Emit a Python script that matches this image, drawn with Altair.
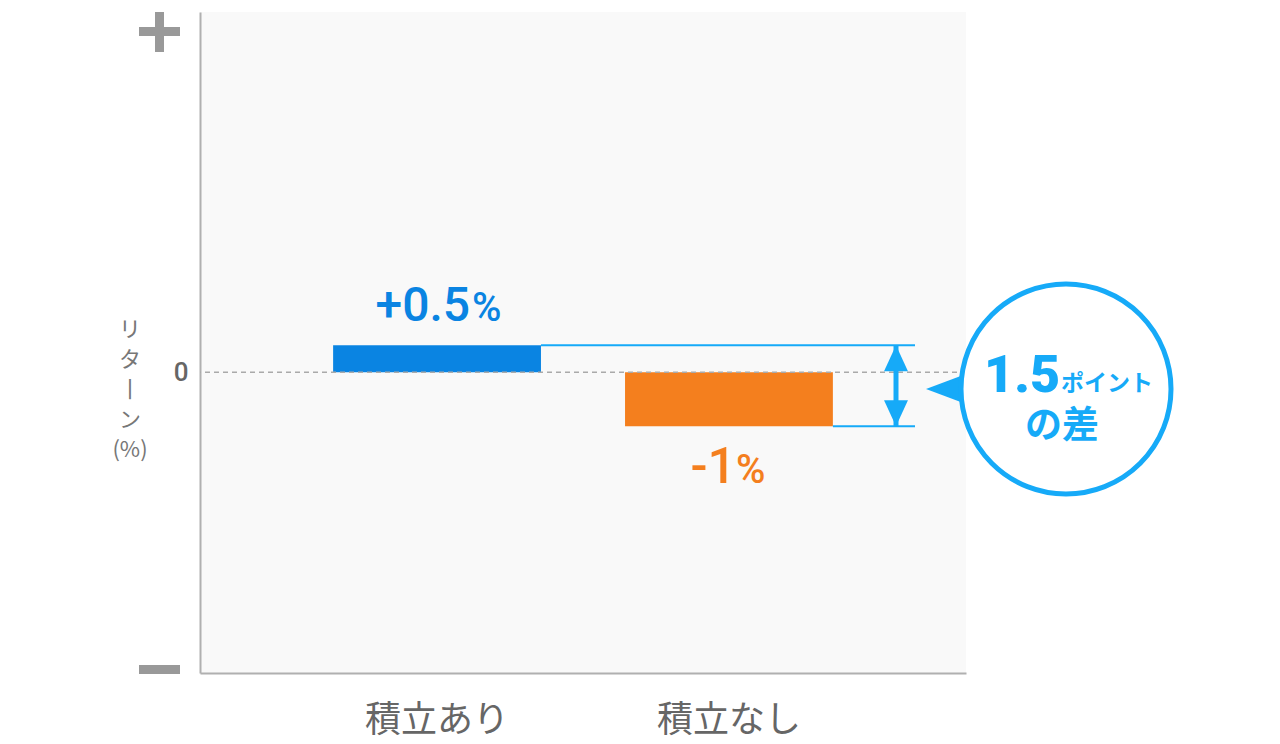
import altair as alt
import pandas as pd

# ---- data ----
categories = ["積立あり", "積立なし"]
returns = [0.5, -1.0]
label_numbers = ["+0.5", "-1"]
bar_colors = ["#0a84e2", "#f47f1e"]
y_title_lines = ["リ", "タ", "丨", "ン", "(%)"]
callout_unit = "ポイント"
callout_tail = "の差"

diff_text = f"{abs(returns[0] - returns[1]):.1f}"

df = pd.DataFrame({"cat": categories, "value": returns, "num": label_numbers, "zero": [0, 0]})
one = pd.DataFrame({"k": [0]})

ACCENT = "#16aaf8"
AXIS_GRAY = "#b0b0b0"
TEXT_GRAY = "#666666"
JP = "Noto Sans CJK JP"

xscale = alt.Scale(domain=categories, paddingInner=0.288, paddingOuter=0.456)
yscale = alt.Scale(domain=[-5.57, 6.67], nice=False, zero=False)
xaxis = alt.Axis(title=None, ticks=False, grid=False, domainColor=AXIS_GRAY, domainWidth=2,
                 labelFont=JP, labelFontSize=36, labelColor=TEXT_GRAY, labelPadding=30,
                 labelAngle=0)
yaxis = alt.Axis(title=None, ticks=False, grid=False, values=[0], domainColor=AXIS_GRAY,
                 domainWidth=2, labelFont="Roboto", labelFontSize=26, labelFontWeight=500,
                 labelColor=TEXT_GRAY, labelPadding=12)

X = alt.X("cat:N", scale=xscale, axis=xaxis, sort=categories)
Y = alt.Y("value:Q", scale=yscale, axis=yaxis)

base = alt.Chart(df)

bars = base.mark_bar().encode(
    x=X, y=Y, y2="zero:Q",
    color=alt.Color("cat:N", scale=alt.Scale(domain=categories, range=bar_colors), legend=None),
)

guides = base.mark_rule(color=ACCENT, strokeWidth=2).encode(
    x=alt.X("cat:N", scale=xscale, axis=xaxis, sort=categories, bandPosition=1),
    x2=alt.value(715),
    y=Y,
)

zero_line = alt.Chart(one).mark_rule(color="#aaaaaa", strokeDash=[5, 4], strokeWidth=1.5).encode(
    y=alt.datum(0)
)

# value labels
num_size = [48, 50]
num_dx = [33, 7]
pct_dx = [35, 7]
lab_dy = [-24, 57]
label_layers = []
for i, c in enumerate(categories):
    sub = base.transform_filter(alt.datum.cat == c)
    label_layers.append(
        sub.mark_text(font="Roboto", fontSize=num_size[i], fontWeight=500, color=bar_colors[i],
                      align="right", baseline="alphabetic", dx=num_dx[i], dy=lab_dy[i]).encode(
            x=X, y=Y, text="num:N")
    )
    label_layers.append(
        sub.mark_text(text="%", font="Roboto", fontSize=40, fontWeight=500, color=bar_colors[i],
                      align="left", baseline="alphabetic", dx=pct_dx[i], dy=lab_dy[i]).encode(
            x=X, y=Y)
    )

# difference arrow
shaft = alt.Chart(one).mark_rule(color=ACCENT, strokeWidth=5).encode(
    x=alt.value(696), y=alt.datum(returns[0]), y2=alt.datum(returns[1])
)
head_top = alt.Chart(one).mark_point(shape="M0,0L0.92,2L-0.92,2Z", size=676, filled=True,
                                     color=ACCENT, opacity=1).encode(
    x=alt.value(696), y=alt.datum(returns[0]))
head_bot = alt.Chart(one).mark_point(shape="M0,0L0.92,-2L-0.92,-2Z", size=676, filled=True,
                                     color=ACCENT, opacity=1).encode(
    x=alt.value(696), y=alt.datum(returns[1]))

# callout bubble
pointer = alt.Chart(one).mark_point(shape="M0,0L2,-0.75L2,0.75Z", size=1296, filled=True,
                                    color=ACCENT, opacity=1).encode(
    x=alt.value(726), y=alt.value(377))
circle = alt.Chart(one).mark_point(shape="circle", size=44100, filled=True, fill="white",
                                   stroke=ACCENT, strokeWidth=5, opacity=1, fillOpacity=1).encode(
    x=alt.value(866), y=alt.value(377))
big_num = alt.Chart(one).mark_text(text=diff_text, font="Roboto", fontSize=52, fontWeight=900,
                                   color=ACCENT, align="left", baseline="alphabetic").encode(
    x=alt.value(784), y=alt.value(380))
unit = alt.Chart(one).mark_text(text=callout_unit, font=JP, fontSize=23, fontWeight="bold",
                                color=ACCENT, align="left", baseline="alphabetic").encode(
    x=alt.value(861), y=alt.value(379))
tail = alt.Chart(one).mark_text(text=callout_tail, font=JP, fontSize=37, fontWeight="bold",
                                color=ACCENT, align="center", baseline="middle").encode(
    x=alt.value(862), y=alt.value(415))

# axis decorations
plus_h = alt.Chart(one).mark_rect(color="#999999").encode(
    x=alt.value(-61), x2=alt.value(-20), y=alt.value(15), y2=alt.value(24))
plus_v = alt.Chart(one).mark_rect(color="#999999").encode(
    x=alt.value(-45), x2=alt.value(-36), y=alt.value(0), y2=alt.value(40))
minus = alt.Chart(one).mark_rect(color="#999999").encode(
    x=alt.value(-61), x2=alt.value(-20), y=alt.value(653), y2=alt.value(662))
y_title = alt.Chart(one).mark_text(text=y_title_lines, font=JP, fontSize=22, color="#777777",
                                   align="center", baseline="top", lineHeight=30).encode(
    x=alt.value(-70), y=alt.value(308))

chart = alt.layer(
    bars, guides, zero_line, *label_layers, shaft, head_top, head_bot,
    pointer, circle, big_num, unit, tail, plus_h, plus_v, minus, y_title,
).properties(
    width=766, height=661,
    autosize=alt.AutoSizeParams(type="none"),
    padding={"left": 192, "top": 4, "right": 300, "bottom": 70},
).configure_view(stroke=None, fill="#f9f9f9")

chart.save("out.html", embed_options={"renderer": "svg", "actions": False})
